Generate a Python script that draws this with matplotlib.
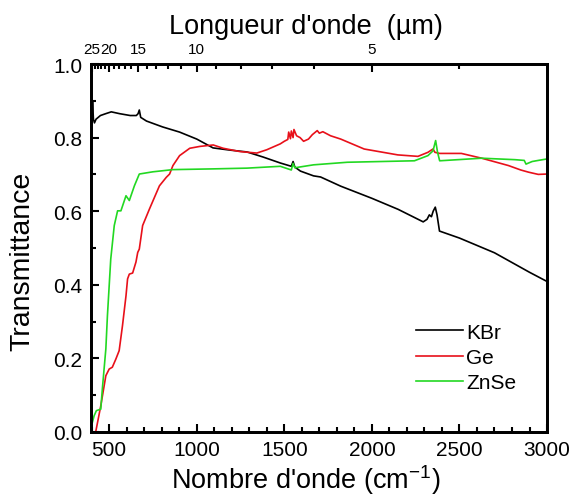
import numpy as np
import matplotlib
matplotlib.use("Agg")
import matplotlib.pyplot as plt
from matplotlib.ticker import MultipleLocator, FixedLocator

plt.rcParams['font.family'] = ['Liberation Sans', 'DejaVu Sans']

# KBr transmittance (black)
kbr_x = [400, 405, 410, 416, 425, 450, 480, 512, 560, 620, 655, 665, 672, 680, 713,
         805, 902, 1000, 1093, 1190, 1287, 1380, 1477, 1540, 1550, 1560, 1592, 1667,
         1707, 1822, 2000, 2150, 2293, 2315, 2328, 2340, 2350, 2362, 2372, 2386, 2500,
         2700, 2900, 3000]
kbr_y = [0.82, 0.90, 0.85, 0.84, 0.85, 0.86, 0.865, 0.87, 0.865, 0.86, 0.86, 0.865, 0.875,
         0.855, 0.845, 0.829, 0.815, 0.796, 0.772, 0.766, 0.761, 0.747, 0.731, 0.722, 0.735,
         0.72, 0.709, 0.696, 0.693, 0.668, 0.635, 0.605, 0.571, 0.578, 0.590, 0.585, 0.600,
         0.611, 0.590, 0.546, 0.527, 0.487, 0.434, 0.409]

# Ge transmittance (red)
ge_x = [423, 452, 481, 500, 518, 538, 557, 576, 596, 605, 615, 634, 653, 663, 672, 691,
        730, 787, 826, 845, 864, 902, 960, 1017, 1094, 1151, 1247, 1343, 1400, 1477, 1500,
        1520, 1525, 1535, 1540, 1550, 1555, 1570, 1590, 1610, 1638, 1660, 1688, 1700, 1720,
        1764, 1822, 1956, 2148, 2263, 2320, 2349, 2360, 2387, 2511, 2627, 2780, 2850, 2895,
        2950, 3000]
ge_y = [0.0, 0.071, 0.153, 0.171, 0.176, 0.198, 0.221, 0.289, 0.37, 0.416, 0.429, 0.432,
        0.462, 0.488, 0.497, 0.561, 0.606, 0.669, 0.692, 0.701, 0.724, 0.751, 0.771, 0.776,
        0.780, 0.771, 0.762, 0.758, 0.767, 0.783, 0.790, 0.795, 0.815, 0.797, 0.818, 0.800,
        0.822, 0.805, 0.800, 0.790, 0.796, 0.808, 0.819, 0.812, 0.816, 0.805, 0.796, 0.769,
        0.753, 0.749, 0.760, 0.769, 0.760, 0.757, 0.757, 0.744, 0.724, 0.712, 0.706, 0.700,
        0.701]

# ZnSe transmittance (green)
znse_x = [404, 414, 427, 452, 461, 481, 490, 509, 529, 548, 567, 596, 615, 644, 672, 749,
          864, 1094, 1286, 1477, 1540, 1550, 1560, 1667, 1860, 2052, 2243, 2320, 2349, 2364,
          2375, 2387, 2627, 2818, 2870, 2880, 2915, 2950, 3000]
znse_y = [0.026, 0.044, 0.058, 0.062, 0.117, 0.226, 0.316, 0.470, 0.561, 0.601, 0.601,
          0.642, 0.629, 0.669, 0.701, 0.707, 0.713, 0.715, 0.717, 0.722, 0.712, 0.730, 0.718,
          0.726, 0.733, 0.735, 0.737, 0.751, 0.764, 0.792, 0.760, 0.737, 0.744, 0.740, 0.738,
          0.728, 0.735, 0.738, 0.742]

# top axis (wavelength, um)
top_major_um = [25, 20, 15, 10, 5]
top_minor_um = list(range(4, 25))

fig = plt.figure(figsize=(5.71, 5.02), dpi=100)
ax = fig.add_axes([0.159, 0.1375, 0.799, 0.733])

ax.plot(kbr_x, kbr_y, color='black', lw=1.2, label='KBr')
ax.plot(ge_x, ge_y, color='#e8101a', lw=1.2, label='Ge')
ax.plot(znse_x, znse_y, color='#22d822', lw=1.2, label='ZnSe')

ax.set_xlim(395, 3000)
ax.set_ylim(0.0, 1.0)
ax.xaxis.set_major_locator(FixedLocator([500, 1000, 1500, 2000, 2500, 3000]))
ax.xaxis.set_minor_locator(MultipleLocator(100))
ax.yaxis.set_major_locator(MultipleLocator(0.2))
ax.yaxis.set_minor_locator(MultipleLocator(0.1))
ax.yaxis.set_major_formatter(plt.FuncFormatter(lambda v, p: f"{v:.1f}"))
ax.tick_params(which='both', direction='in', top=False, right=False, width=1.5,
               labelsize=15, pad=6)
ax.tick_params(which='major', length=6)
ax.tick_params(which='minor', length=3.5)
for s in ax.spines.values():
    s.set_linewidth(2)

ax.set_xlabel("Nombre d'onde (cm$^{\\mathregular{-1}}$)", fontsize=19.5, labelpad=2)
ax.xaxis.label.set_x(0.471)
ax.set_ylabel("Transmittance", fontsize=20.5, labelpad=12.5)
ax.yaxis.label.set_y(0.467)

ax2 = ax.twiny()
ax2.set_xlim(ax.get_xlim())
ax2.set_xticks([1e4 / l for l in top_major_um])
ax2.set_xticklabels([str(l) for l in top_major_um])
ax2.xaxis.set_minor_locator(FixedLocator([1e4 / l for l in top_minor_um]))
ax2.tick_params(which='both', direction='in', width=1.5, labelsize=11, pad=6)
ax2.tick_params(which='major', length=6)
ax2.tick_params(which='minor', length=3.5)
ax2.set_xlabel("Longueur d'onde  (µm)", fontsize=19.5, labelpad=6)
ax2.xaxis.label.set_x(0.471)
for s in ax2.spines.values():
    s.set_linewidth(2)

ax.legend(loc='upper left', bbox_to_anchor=(0.671, 0.348), frameon=False,
          fontsize=15, handlelength=2.25, handletextpad=0.16, labelspacing=0.3)

fig.savefig('out.png', dpi=100)
